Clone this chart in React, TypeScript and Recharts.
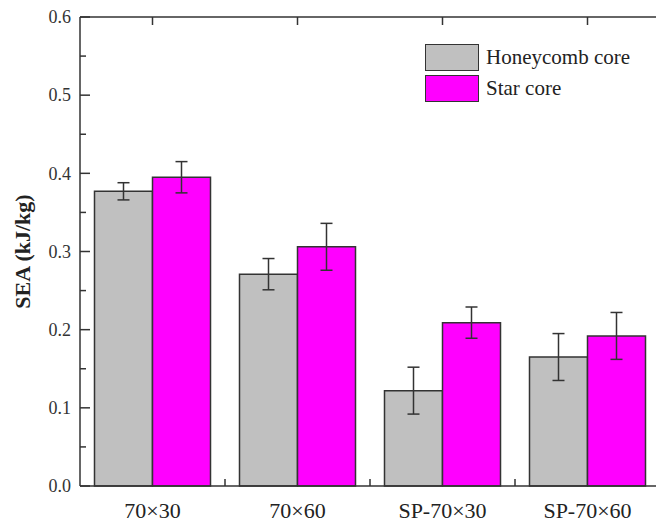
import React from "react";
import { BarChart, Bar, XAxis, YAxis, ErrorBar, Legend } from "recharts";

const categories = ["70×30", "70×60", "SP-70×30", "SP-70×60"];
const honeycomb = [0.377, 0.271, 0.122, 0.165];
const honeycombErr = [0.011, 0.02, 0.03, 0.03];
const star = [0.395, 0.306, 0.209, 0.192];
const starErr = [0.02, 0.03, 0.02, 0.03];
const yTicks = [0, 0.05, 0.1, 0.15, 0.2, 0.25, 0.3, 0.35, 0.4, 0.45, 0.5, 0.55, 0.6];

const seriesInfo = [
  { key: "honeycomb", name: "Honeycomb core", color: "#c0c0c0" },
  { key: "star", name: "Star core", color: "#ff00ff" },
];

const data = categories.map((name, i) => ({
  name,
  honeycomb: honeycomb[i],
  honeycombErr: honeycombErr[i],
  star: star[i],
  starErr: starErr[i],
}));

const FONT = "'Liberation Serif', 'Times New Roman', serif";
const INK = "#333";

const isMajor = (v: number) => Math.round(v * 100) % 10 === 0;

const LeftTick = (props: any) => {
  const x = Number(props.x);
  const y = Number(props.y);
  const major = isMajor(props.payload.value);
  return (
    <g>
      <path d={`M${x},${y}H${x + (major ? 10 : 6)}`} stroke={INK} strokeWidth={1.5} fill="none" />
      {major && (
        <text x={x - 9} y={y} dy="0.35em" textAnchor="end" fontFamily={FONT} fontSize={18} fill="#333">
          {props.payload.value.toFixed(1)}
        </text>
      )}
    </g>
  );
};

const RightTick = (props: any) => {
  const x = Number(props.x);
  const y = Number(props.y);
  const major = isMajor(props.payload.value);
  return <path d={`M${x},${y}H${x - (major ? 10 : 6)}`} stroke={INK} strokeWidth={1.5} fill="none" />;
};

const BottomTick = (props: any) => {
  const x = Number(props.x);
  const y = Number(props.y);
  const { payload, index } = props;
  const half = payload.offset ?? 72.5;
  return (
    <g>
      {index < categories.length - 1 && (
        <path d={`M${x + half},${y}V${y - 7}`} stroke={INK} strokeWidth={1.5} fill="none" />
      )}
      <text x={x} y={y + 32} textAnchor="middle" fontFamily={FONT} fontSize={22} fill="#222">
        {payload.value}
      </text>
    </g>
  );
};

const TopTick = (props: any) => {
  const x = Number(props.x);
  const y = Number(props.y);
  return <path d={`M${x},${y}V${y + 8}`} stroke={INK} strokeWidth={1.5} fill="none" />;
};

const renderLegend = () => (
  <div style={{ fontFamily: FONT, fontSize: 21, color: "#222" }}>
    {seriesInfo.map((s) => (
      <div key={s.key} style={{ display: "flex", alignItems: "center", height: 31 }}>
        <span
          style={{
            display: "inline-block",
            width: 54,
            height: 27,
            boxSizing: "border-box",
            background: s.color,
            border: "1.5px solid #333",
          }}
        />
        <span style={{ marginLeft: 7 }}>{s.name}</span>
      </div>
    ))}
  </div>
);

export default function App() {
  return (
    <div style={{ position: "fixed", left: 0, top: 0, width: 656, height: 526, overflow: "hidden", background: "#fff" }}>
      <BarChart
        width={680}
        height={526}
        data={data}
        margin={{ top: 16, right: 19, bottom: 0, left: 0 }}
        barCategoryGap="10%"
        barGap={0}
      >
        <XAxis
          dataKey="name"
          height={40}
          tickSize={0}
          tickMargin={0}
          tickLine={false}
          interval={0}
          axisLine={{ stroke: INK, strokeWidth: 1.5 }}
          tick={<BottomTick />}
        />
        <XAxis
          xAxisId="top"
          dataKey="name"
          orientation="top"
          height={1}
          tickSize={0}
          tickMargin={0}
          tickLine={false}
          interval={0}
          axisLine={{ stroke: INK, strokeWidth: 1.5 }}
          tick={<TopTick />}
        />
        <YAxis
          width={80}
          domain={[0, 0.6]}
          ticks={yTicks}
          interval={0}
          tickSize={0}
          tickMargin={0}
          tickLine={false}
          axisLine={{ stroke: INK, strokeWidth: 1.5 }}
          tick={<LeftTick />}
          label={{
            value: "SEA (kJ/kg)",
            angle: -90,
            position: "center",
            dx: -18,
            style: { fontFamily: FONT, fontSize: 22, fontWeight: "bold", fill: "#222" },
          }}
        />
        <YAxis
          yAxisId="right"
          orientation="right"
          width={1}
          domain={[0, 0.6]}
          ticks={yTicks}
          interval={0}
          tickSize={0}
          tickMargin={0}
          tickLine={false}
          axisLine={{ stroke: INK, strokeWidth: 1.5 }}
          tick={<RightTick />}
        />
        <Legend
          layout="horizontal"
          verticalAlign="middle"
          align="center"
          content={renderLegend}
          wrapperStyle={{ top: 42, left: 425, width: "auto" }}
        />
        {seriesInfo.map((s) => (
          <Bar
            key={s.key}
            dataKey={s.key}
            name={s.name}
            fill={s.color}
            stroke={INK}
            strokeWidth={1.5}
            isAnimationActive={false}
          >
            <ErrorBar dataKey={`${s.key}Err`} width={6} stroke={INK} strokeWidth={1.5} direction="y" />
          </Bar>
        ))}
      </BarChart>
    </div>
  );
}
